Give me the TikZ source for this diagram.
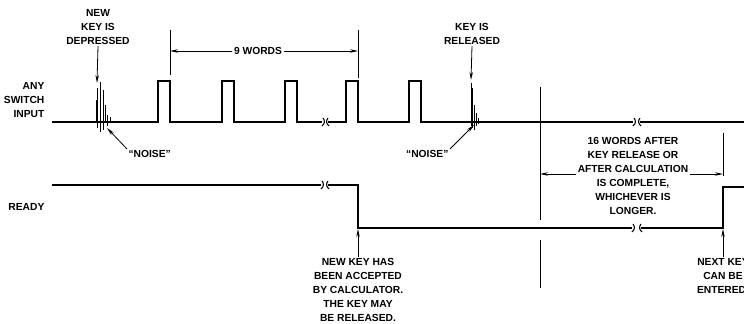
\documentclass[tikz,border=0pt]{standalone}
\usepackage{fontspec}
\setmainfont{Liberation Sans}
\usetikzlibrary{arrows.meta,positioning}

\begin{document}
\begin{tikzpicture}[x=0.75pt,y=-0.75pt,>={Stealth[length=6pt,width=2.6pt]},
  lbl/.style={font=\bfseries\fontsize{7.7}{10.5}\selectfont,align=center,inner sep=1pt},
  wave/.style={line width=1.8pt,line join=miter},
  dim/.style={line width=0.6pt},
  noise/.style={line width=0.7pt},
  brk/.style={line width=0.8pt},
  pointer/.style={->,line width=0.6pt}]
 \useasboundingbox (0,0) rectangle (744,324);

 % signal names
 \node[lbl,anchor=east,align=right] (sw)    at (46,100) {ANY\\SWITCH\\INPUT};
 \node[lbl,anchor=east]             (ready) at (46,207) {READY};

 % switch input
 \draw[wave] (52,122) foreach \x in {158,222,285} {
     -- (\x,122) -- (\x,81) -- (\x+12,81) -- (\x+12,122) } -- (322,122);
 \draw[wave] (328,122) foreach \x in {346,409} {
     -- (\x,122) -- (\x,81) -- (\x+12,81) -- (\x+12,122) } -- (633,122);
 \draw[wave] (640,122) -- (744,122);

 % ready
 \draw[wave] (52,185) -- (321,185);
 \draw[wave] (328,185) -- (358,185) -- (358,228) -- (632,228);
 \draw[wave] (641,228) -- (723,228) -- (723,187) -- (744,187);

 % break marks
 \foreach \x/\y in {322/122,321/185,633/122,632/228}
   \draw[brk] (\x,\y+4) .. controls (\x+3,\y+2) and (\x+3,\y-2) .. (\x+1,\y-4);
 \foreach \x/\y in {328/122,328/185,640/122,641/228}
   \draw[brk] (\x+1,\y+4) .. controls (\x-2,\y+2) and (\x-2,\y-2) .. (\x,\y-4);

 % noise on key depressed / released
 \foreach \x/\t/\b in {96/100/122,97/88/128,100/82/132,103/90/130,105/105/122,107/115/126,110/117/122}
   \draw[noise] (\x,\t) -- (\x,\b);
 \foreach \x/\t/\b in {471/83/126,472/88/128,474/105/130,476/113/126,478/118/124}
   \draw[noise] (\x,\t) -- (\x,\b);

 % 9 words
 \coordinate (w9l) at (170,51);
 \coordinate (w9r) at (358,51);
 \draw[dim] (170,30) -- (170,75);
 \draw[dim] (358,30) -- (358,78);
 \node[lbl] (words9) at (258,51) {9 WORDS};
 \draw[pointer] (words9.west) -- (w9l);
 \draw[pointer] (words9.east) -- (w9r);

 % key events
 \coordinate (dtip) at (97,83);
 \coordinate (rtip) at (471,80);
 \node[lbl] (depr) at (98,27) {NEW\\KEY IS\\DEPRESSED};
 \node[lbl] (rel)  at (472,34) {KEY IS\\RELEASED};
 \draw[pointer] (depr.south) -- (dtip);
 \draw[pointer] (rel.south) -- (rtip);

 \coordinate (n1tip) at (107,128);
 \coordinate (n2tip) at (474,125);
 \node[lbl,anchor=north west] (noise1) at (127,149) {“NOISE”};
 \node[lbl,anchor=north east] (noise2) at (450,149) {“NOISE”};
 \draw[pointer] (noise1.north west) -- (n1tip);
 \draw[pointer] (noise2.north east) -- (n2tip);

 % 16 words
 \coordinate (w16l) at (540,174);
 \coordinate (w16r) at (723,174);
 \draw[dim] (540,87) -- (540,220);
 \draw[dim] (540,240) -- (540,288);
 \draw[dim] (723,133) -- (723,176);
 \node[lbl] (words16) at (633,176)
   {16 WORDS AFTER\\KEY RELEASE OR\\AFTER CALCULATION\\IS COMPLETE,\\WHICHEVER IS\\LONGER.};
 \draw[pointer] (words16.west |- w16l) -- (w16l);
 \draw[pointer] (words16.east |- w16r) -- (w16r);

 % ready events
 \coordinate (atip) at (358,229);
 \coordinate (ntip) at (723,229);
 \node[lbl,anchor=north] (accept) at (358,257)
   {NEW KEY HAS\\BEEN ACCEPTED\\BY CALCULATOR.\\THE KEY MAY\\BE RELEASED.};
 \node[lbl,anchor=north] (next) at (723,257) {NEXT KEY\\CAN BE\\ENTERED.};
 \draw[pointer] (accept.north) -- (atip);
 \draw[pointer] (next.north) -- (ntip);
\end{tikzpicture}
\end{document}
